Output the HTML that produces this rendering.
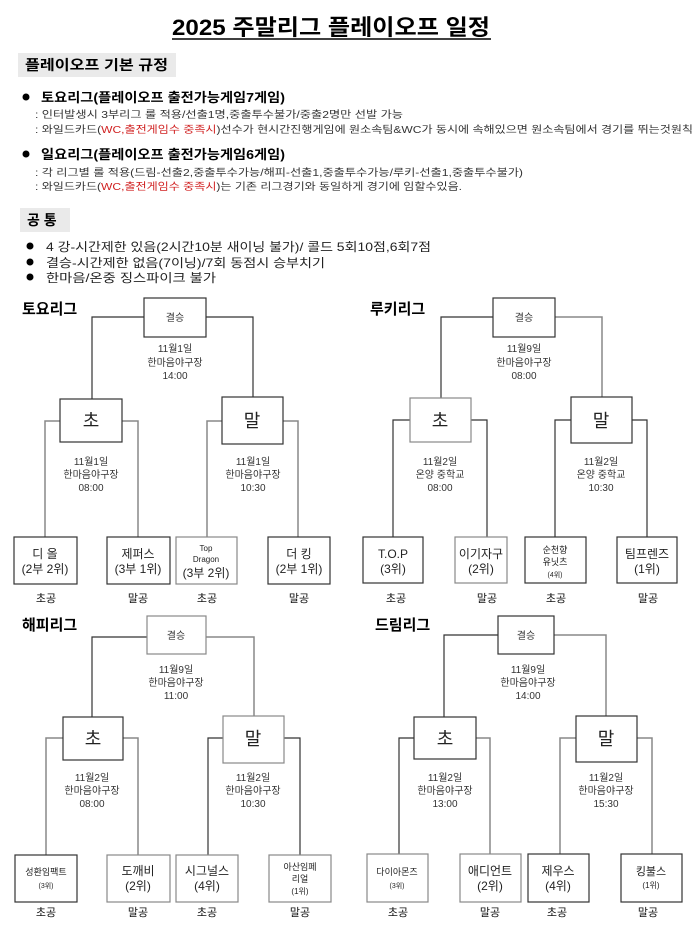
<!DOCTYPE html>
<html><head><meta charset="utf-8"><style>
html,body{margin:0;padding:0;background:#fff;}
svg{display:block;}
text{font-family:"Liberation Sans","Noto Sans CJK KR",sans-serif;fill:#222;}
.b{font-weight:bold;fill:#000;}
.s{font-size:10px;fill:#333;}
.c{text-anchor:middle;}
.l{font-size:11px;fill:#111;}
.ln{stroke:#333;stroke-width:1.2;fill:none;}
.lg{stroke:#888;stroke-width:1.5;fill:none;}
.bx{fill:#fff;stroke:#333;stroke-width:1.2;}
.bg{fill:#fff;stroke:#888;stroke-width:1.2;}
</style></head><body>
<svg width="700" height="933" viewBox="0 0 700 933" xmlns="http://www.w3.org/2000/svg">
<text x="331" y="35" class="b c" font-size="22" textLength="318" lengthAdjust="spacingAndGlyphs">2025 주말리그 플레이오프 일정</text>
<line x1="172" y1="39" x2="491" y2="39" stroke="#000" stroke-width="1.6"/>
<rect x="18" y="53" width="158" height="24" fill="#eaeaea"/>
<text x="25" y="70" class="b" font-size="14" textLength="143" lengthAdjust="spacingAndGlyphs">플레이오프 기본 규정</text>
<circle cx="26" cy="97" r="3.5" fill="#000"/>
<text x="41" y="102" class="b" font-size="13" textLength="244" lengthAdjust="spacingAndGlyphs">토요리그(플레이오프 출전가능게임7게임)</text>
<text x="35" y="118" class="s" textLength="368" lengthAdjust="spacingAndGlyphs">: 인터발생시 3부리그 룰 적용/선출1명,중출투수불가/중출2명만 선발 가능</text>
<text x="35" y="133" class="s" textLength="658" lengthAdjust="spacingAndGlyphs">: 와일드카드(<tspan fill="#d02020">WC,출전게임수 중족시</tspan>)선수가 현시간진행게임에 원소속팀&amp;WC가 동시에 속해있으면 원소속팀에서 경기를 뛰는것원칙</text>
<circle cx="26" cy="154" r="3.5" fill="#000"/>
<text x="41" y="159" class="b" font-size="13" textLength="244" lengthAdjust="spacingAndGlyphs">일요리그(플레이오프 출전가능게임6게임)</text>
<text x="35" y="176" class="s" textLength="488" lengthAdjust="spacingAndGlyphs">: 각 리그별 룰 적용(드림-선출2,중출투수가능/해피-선출1,중출투수가능/루키-선출1,중출투수불가)</text>
<text x="35" y="190" class="s" textLength="427" lengthAdjust="spacingAndGlyphs">: 와일드카드(<tspan fill="#d02020">WC,출전게임수 중족시</tspan>)는 기존 리그경기와 동일하게 경기에 임할수있음.</text>
<rect x="20" y="208" width="50" height="24" fill="#eaeaea"/>
<text x="27" y="225" class="b" font-size="14">공 통</text>
<circle cx="30" cy="246" r="3.5" fill="#000"/>
<text x="46" y="251" font-size="12" textLength="385" lengthAdjust="spacingAndGlyphs">4 강-시간제한 있음(2시간10분 새이닝 불가)/ 콜드 5회10점,6회7점</text>
<circle cx="30" cy="262" r="3.5" fill="#000"/>
<text x="46" y="267" font-size="12" textLength="279" lengthAdjust="spacingAndGlyphs">결승-시간제한 없음(7이닝)/7회 동점시 승부치기</text>
<circle cx="30" cy="277" r="3.5" fill="#000"/>
<text x="46" y="282" font-size="12" textLength="170" lengthAdjust="spacingAndGlyphs">한마음/온중 징스파이크 불가</text>

<!-- Bracket 1 -->
<text x="22" y="314" class="b" font-size="15">토요리그</text>
<polyline class="ln" points="144,317 92,317 92,399"/>
<polyline class="ln" points="206,317 253,317 253,397"/>
<polyline class="lg" points="60,421 45,421 45,537"/>
<polyline class="lg" points="122,421 138,421 138,537"/>
<polyline class="lg" points="222,421 207,421 207,537"/>
<polyline class="lg" points="283,421 298,421 298,537"/>
<rect class="bx" x="144" y="298" width="62" height="39"/>
<text x="175" y="321" class="c s">결승</text>
<text x="175" y="352" class="c s">11월1일</text><text x="175" y="366" class="c s">한마음야구장</text><text x="175" y="379" class="c s">14:00</text>
<rect class="bx" x="60" y="399" width="62" height="43"/><text x="91" y="427" class="c" font-size="18" fill="#000">초</text>
<rect class="bx" x="222" y="397" width="61" height="47"/><text x="252" y="427" class="c" font-size="18" fill="#000">말</text>
<text x="91" y="465" class="c s">11월1일</text><text x="91" y="478" class="c s">한마음야구장</text><text x="91" y="491" class="c s">08:00</text>
<text x="253" y="465" class="c s">11월1일</text><text x="253" y="478" class="c s">한마음야구장</text><text x="253" y="491" class="c s">10:30</text>
<rect class="bx" x="14" y="537" width="63" height="47"/><text x="45" y="558" class="c" font-size="12">디  올</text><text x="45" y="573" class="c" font-size="12">(2부 2위)</text>
<rect class="bx" x="107" y="537" width="63" height="47"/><text x="138" y="558" class="c" font-size="12">제퍼스</text><text x="138" y="573" class="c" font-size="12">(3부 1위)</text>
<rect class="bg" x="176" y="537" width="61" height="47"/><text x="206" y="551" class="c" font-size="8">Top</text><text x="206" y="562" class="c" font-size="8">Dragon</text><text x="206" y="577" class="c" font-size="12">(3부 2위)</text>
<rect class="bx" x="268" y="537" width="62" height="47"/><text x="299" y="558" class="c" font-size="12">더  킹</text><text x="299" y="573" class="c" font-size="12">(2부 1위)</text>
<text x="46" y="602" class="c l">초공</text><text x="138" y="602" class="c l">말공</text><text x="207" y="602" class="c l">초공</text><text x="299" y="602" class="c l">말공</text>

<!-- Bracket 2 -->
<text x="370" y="314" class="b" font-size="15">루키리그</text>
<polyline class="ln" points="493,317 441,317 441,398"/>
<polyline class="lg" points="555,317 602,317 602,397"/>
<polyline class="ln" points="410,420 393,420 393,537"/>
<polyline class="ln" points="471,420 487,420 487,537"/>
<polyline class="ln" points="571,420 555,420 555,537"/>
<polyline class="ln" points="632,420 647,420 647,537"/>
<rect class="bx" x="493" y="298" width="62" height="39"/>
<text x="524" y="321" class="c s">결승</text>
<text x="524" y="352" class="c s">11월9일</text><text x="524" y="366" class="c s">한마음야구장</text><text x="524" y="379" class="c s">08:00</text>
<rect class="bg" x="410" y="398" width="61" height="44"/><text x="440" y="427" class="c" font-size="18" fill="#000">초</text>
<rect class="bx" x="571" y="397" width="61" height="46"/><text x="601" y="427" class="c" font-size="18" fill="#000">말</text>
<text x="440" y="465" class="c s">11월2일</text><text x="440" y="478" class="c s">온양 중학교</text><text x="440" y="491" class="c s">08:00</text>
<text x="601" y="465" class="c s">11월2일</text><text x="601" y="478" class="c s">온양 중학교</text><text x="601" y="491" class="c s">10:30</text>
<rect class="bx" x="363" y="537" width="60" height="46"/><text x="393" y="558" class="c" font-size="12">T.O.P</text><text x="393" y="573" class="c" font-size="12">(3위)</text>
<rect class="bg" x="455" y="537" width="52" height="46"/><text x="481" y="558" class="c" font-size="12">이기자구</text><text x="481" y="573" class="c" font-size="12">(2위)</text>
<rect class="bx" x="525" y="537" width="61" height="46"/><text x="555" y="553" class="c" font-size="9">순천향</text><text x="555" y="565" class="c" font-size="9">유닛츠</text><text x="555" y="577" class="c" font-size="7">(4위)</text>
<rect class="bx" x="617" y="537" width="60" height="46"/><text x="647" y="558" class="c" font-size="12">팀프렌즈</text><text x="647" y="573" class="c" font-size="12">(1위)</text>
<text x="396" y="602" class="c l">초공</text><text x="487" y="602" class="c l">말공</text><text x="556" y="602" class="c l">초공</text><text x="648" y="602" class="c l">말공</text>

<!-- Bracket 3 -->
<text x="22" y="630" class="b" font-size="15">해피리그</text>
<polyline class="ln" points="147,637 92,637 92,717"/>
<polyline class="lg" points="206,637 254,637 254,716"/>
<polyline class="lg" points="63,738 46,738 46,855"/>
<polyline class="lg" points="123,738 138,738 138,855"/>
<polyline class="ln" points="223,738 208,738 208,855"/>
<polyline class="ln" points="284,738 300,738 300,855"/>
<rect class="bg" x="147" y="616" width="59" height="38"/>
<text x="176" y="639" class="c s">결승</text>
<text x="176" y="673" class="c s">11월9일</text><text x="176" y="686" class="c s">한마음야구장</text><text x="176" y="699" class="c s">11:00</text>
<rect class="bx" x="63" y="717" width="60" height="43"/><text x="93" y="745" class="c" font-size="18" fill="#000">초</text>
<rect class="bg" x="223" y="716" width="61" height="47"/><text x="253" y="745" class="c" font-size="18" fill="#000">말</text>
<text x="92" y="781" class="c s">11월2일</text><text x="92" y="794" class="c s">한마음야구장</text><text x="92" y="807" class="c s">08:00</text>
<text x="253" y="781" class="c s">11월2일</text><text x="253" y="794" class="c s">한마음야구장</text><text x="253" y="807" class="c s">10:30</text>
<rect class="bx" x="15" y="855" width="62" height="47"/><text x="46" y="875" class="c" font-size="9">성환임팩트</text><text x="46" y="888" class="c" font-size="7">(3위)</text>
<rect class="bg" x="107" y="855" width="63" height="47"/><text x="138" y="875" class="c" font-size="12">도깨비</text><text x="138" y="890" class="c" font-size="12">(2위)</text>
<rect class="bg" x="176" y="855" width="62" height="47"/><text x="207" y="875" class="c" font-size="12">시그널스</text><text x="207" y="890" class="c" font-size="12">(4위)</text>
<rect class="bg" x="269" y="855" width="62" height="47"/><text x="300" y="870" class="c" font-size="9">아산임페</text><text x="300" y="882" class="c" font-size="9">리얼</text><text x="300" y="894" class="c" font-size="8">(1위)</text>
<text x="46" y="916" class="c l">초공</text><text x="138" y="916" class="c l">말공</text><text x="207" y="916" class="c l">초공</text><text x="300" y="916" class="c l">말공</text>

<!-- Bracket 4 -->
<text x="375" y="630" class="b" font-size="15">드림리그</text>
<polyline class="ln" points="498,635 444,635 444,717"/>
<polyline class="lg" points="554,635 606,635 606,716"/>
<polyline class="ln" points="414,738 399,738 399,854"/>
<polyline class="lg" points="476,738 490,738 490,854"/>
<polyline class="lg" points="576,738 560,738 560,854"/>
<polyline class="lg" points="637,738 652,738 652,854"/>
<rect class="bx" x="498" y="616" width="56" height="38"/>
<text x="526" y="639" class="c s">결승</text>
<text x="528" y="673" class="c s">11월9일</text><text x="528" y="686" class="c s">한마음야구장</text><text x="528" y="699" class="c s">14:00</text>
<rect class="bx" x="414" y="717" width="62" height="42"/><text x="445" y="745" class="c" font-size="18" fill="#000">초</text>
<rect class="bx" x="576" y="716" width="61" height="46"/><text x="606" y="745" class="c" font-size="18" fill="#000">말</text>
<text x="445" y="781" class="c s">11월2일</text><text x="445" y="794" class="c s">한마음야구장</text><text x="445" y="807" class="c s">13:00</text>
<text x="606" y="781" class="c s">11월2일</text><text x="606" y="794" class="c s">한마음야구장</text><text x="606" y="807" class="c s">15:30</text>
<rect class="bg" x="367" y="854" width="61" height="48"/><text x="397" y="875" class="c" font-size="9">다이아몬즈</text><text x="397" y="888" class="c" font-size="7">(3위)</text>
<rect class="bg" x="460" y="854" width="61" height="48"/><text x="490" y="875" class="c" font-size="12">애디언트</text><text x="490" y="890" class="c" font-size="12">(2위)</text>
<rect class="bx" x="528" y="854" width="61" height="48"/><text x="558" y="875" class="c" font-size="12">제우스</text><text x="558" y="890" class="c" font-size="12">(4위)</text>
<rect class="bx" x="621" y="854" width="61" height="48"/><text x="651" y="875" class="c" font-size="11">킹불스</text><text x="651" y="888" class="c" font-size="8">(1위)</text>
<text x="398" y="916" class="c l">초공</text><text x="490" y="916" class="c l">말공</text><text x="557" y="916" class="c l">초공</text><text x="648" y="916" class="c l">말공</text>
</svg>
</body></html>
